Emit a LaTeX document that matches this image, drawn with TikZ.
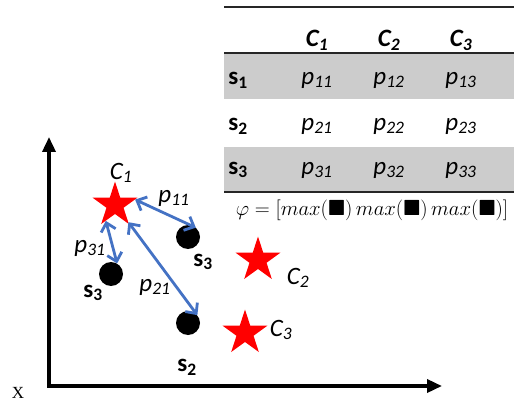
\documentclass[tikz,border=0pt]{standalone}
\usepackage{amsmath,amssymb}
\usepackage[no-math]{fontspec}
\setmainfont{Carlito}
\newfontfamily\axisfont{Liberation Serif}
\usetikzlibrary{shapes.geometric, arrows.meta, positioning, calc}

\definecolor{distblue}{RGB}{68,114,196}

\begin{document}
\begin{tikzpicture}[
    x=1pt, y=-1pt,
    txt/.style={inner sep=1pt, font=\fontsize{25}{30}\selectfont},
    hdr/.style={txt, font=\fontsize{25}{30}\selectfont\bfseries\itshape},
    cell/.style={txt, font=\fontsize{25}{30}\selectfont\itshape},
    rowlbl/.style={txt, font=\fontsize{25}{30}\selectfont\bfseries},
    band/.style={fill=black!20, draw=none},
    tabrule/.style={line width=1.6pt, draw=black!85},
    centroid/.style={star, star points=5, star point ratio=2.618, fill=red, inner sep=0pt, minimum size=47pt},
    sample/.style={circle, fill=black, inner sep=0pt, minimum size=24pt},
    dist/.style={{Straight Barb[length=8pt,width=15pt]}-{Straight Barb[length=8pt,width=15pt]}, line width=2.8pt, draw=distblue},
    axis/.style={{Triangle[length=15pt,width=13pt]}-{Triangle[length=15pt,width=13pt]}, line width=3.5pt}
  ]
    \useasboundingbox (0,0) rectangle (524,406);

    % table
    \fill[band] (224,53) rectangle (514,99);
    \fill[band] (224,147) rectangle (514,192);
    \draw[tabrule] (224,7) -- (514,7);
    \draw[tabrule] (224,53) -- (514,53);
    \draw[tabrule] (224,192) -- (514,192);
    \foreach \j/\x in {1/317,2/389,3/461}
      \node[hdr] (c\j h) at (\x,40) {C\textsubscript{\j}};
    \foreach \i/\y in {1/80,2/126,3/170} {
      \node[rowlbl] (s\i) at (238,\y) {s\textsubscript{\i}};
      \foreach \j/\x in {1/317,2/389,3/461}
        \node[cell] (p\i\j) at (\x,\y) {p\textsubscript{\i\j}};
    }
    \node[txt, font=\fontsize{22}{26}\selectfont] (phi) at (372,210)
      {$\varphi = [max(\blacksquare)\,max(\blacksquare)\,max(\blacksquare)]$};

    % axes
    \coordinate (origin) at (49,386);
    \coordinate (ytip) at (49,137);
    \coordinate (xtip) at (442,386);
    \draw[axis] (ytip) -- (origin) -- (xtip);
    \node[txt, font=\fontsize{17}{20}\selectfont\axisfont] (xlbl) at (18,393) {X};

    % centroids and samples
    \node[centroid] (c1) at (115,205) {};
    \node[centroid] (c2) at (258,260) {};
    \node[centroid] (c3) at (245,333) {};
    \node[sample] (d1) at (188,237) {};
    \node[sample] (d3) at (111,274) {};
    \node[sample] (d2) at (188,323) {};

    \node[cell] (c1l) at (121,173) {C\textsubscript{1}};
    \node[cell] (c2l) at (298,278) {C\textsubscript{2}};
    \node[cell] (c3l) at (281,330) {C\textsubscript{3}};
    \node[rowlbl] (d1l) at (203,262) {s\textsubscript{3}};
    \node[rowlbl] (d3l) at (93,293) {s\textsubscript{3}};
    \node[rowlbl] (d2l) at (187,367) {s\textsubscript{2}};

    % distances
    \draw[dist] (c1.15) -- (d1.50);
    \draw[dist] (c1.-120) -- (d3.60);
    \draw[dist] (c1.-52) -- (d2.40);
    \node[cell] (lp11) at (174,198) {p\textsubscript{11}};
    \node[cell] (lp31) at (90,248) {p\textsubscript{31}};
    \node[cell] (lp21) at (155,287) {p\textsubscript{21}};
  \end{tikzpicture}
\end{document}
